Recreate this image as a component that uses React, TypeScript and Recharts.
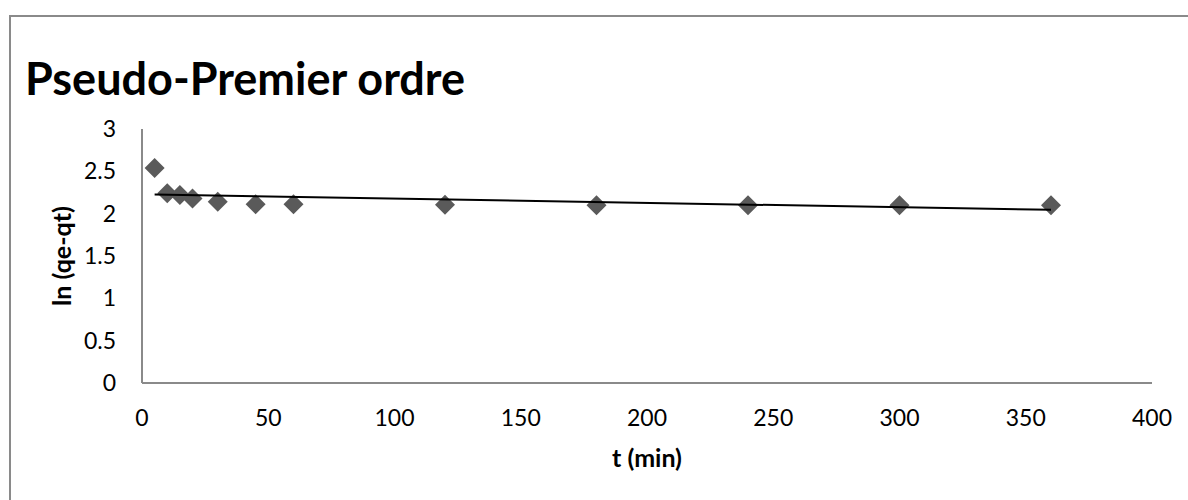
import React from "react";
import { ScatterChart, Scatter, XAxis, YAxis } from "recharts";

// t (min)
const times = [5, 10, 15, 20, 30, 45, 60, 120, 180, 240, 300, 360];
// ln(qe - qt)
const lnValues = [2.54, 2.24, 2.22, 2.18, 2.14, 2.11, 2.11, 2.105, 2.1, 2.1, 2.1, 2.1];

const xTicks = [0, 50, 100, 150, 200, 250, 300, 350, 400];
const yTicks = [0, 0.5, 1, 1.5, 2, 2.5, 3];

const points = times.map((t, i) => ({ x: t, y: lnValues[i] }));

// linear trendline (least squares), like Excel's
const fitLine = () => {
  const n = times.length;
  const mx = times.reduce((a, b) => a + b, 0) / n;
  const my = lnValues.reduce((a, b) => a + b, 0) / n;
  let sxy = 0;
  let sxx = 0;
  times.forEach((t, i) => {
    sxy += (t - mx) * (lnValues[i] - my);
    sxx += (t - mx) * (t - mx);
  });
  const slope = sxy / sxx;
  const icpt = my - slope * mx;
  const x0 = times[0];
  const x1 = times[n - 1];
  return [
    { x: x0, y: icpt + slope * x0 },
    { x: x1, y: icpt + slope * x1 },
  ];
};
const trend = fitLine();

const FONT = "Lato, 'Open Sans', sans-serif";
const AXIS = "#8a8a8a";

const Diamond = (props: any) => {
  const { cx, cy } = props;
  const r = 10;
  return (
    <path
      d={`M${cx},${cy - r}L${cx + r},${cy}L${cx},${cy + r}L${cx - r},${cy}Z`}
      fill="#5a5a5a"
    />
  );
};

const NoDot = () => <g />;

export default function App() {
  return (
    <div
      style={{
        position: "absolute",
        left: 0,
        top: 0,
        width: 1188,
        height: 500,
        overflow: "hidden",
        background: "#fff",
        fontFamily: FONT,
      }}
    >
      <div
        style={{
          position: "absolute",
          left: 9,
          top: 15,
          width: 1200,
          height: 500,
          borderTop: `2px solid ${AXIS}`,
          borderLeft: `2px solid ${AXIS}`,
        }}
      />
      <div
        style={{
          position: "absolute",
          left: 25,
          top: 56,
          fontSize: 45,
          lineHeight: 1,
          fontWeight: 700,
          color: "#000",
          whiteSpace: "nowrap",
        }}
      >
        Pseudo-Premier ordre
      </div>
      <div style={{ position: "absolute", left: 0, top: 0 }}>
        <ScatterChart
          width={1188}
          height={500}
          margin={{ top: 129, right: 36, left: 0, bottom: 17 }}
        >
          <XAxis
            type="number"
            dataKey="x"
            domain={[0, 400]}
            ticks={xTicks}
            interval={0}
            height={100}
            tickLine={false}
            tickSize={0}
            tickMargin={27}
            axisLine={{ stroke: AXIS, strokeWidth: 2 }}
            tick={{ fill: "#000", fontSize: 23, fontFamily: FONT }}
            label={{
              value: "t (min)",
              position: "insideBottom",
              offset: 16,
              fill: "#000",
              fontSize: 25,
              fontWeight: 700,
              fontFamily: FONT,
            }}
          />
          <YAxis
            type="number"
            dataKey="y"
            domain={[0, 3]}
            ticks={yTicks}
            interval={0}
            width={142}
            tickLine={false}
            tickSize={0}
            tickMargin={26}
            axisLine={{ stroke: AXIS, strokeWidth: 2 }}
            tick={{ fill: "#000", fontSize: 23, fontFamily: FONT }}
            label={{
              value: "ln (qe-qt)",
              angle: -90,
              position: "insideLeft",
              offset: 62,
              fill: "#000",
              fontSize: 25,
              fontWeight: 700,
              fontFamily: FONT,
              style: { textAnchor: "middle" },
            }}
          />
          <Scatter data={points} shape={<Diamond />} isAnimationActive={false} />
          <Scatter
            data={trend}
            line={{ stroke: "#000", strokeWidth: 2 }}
            shape={<NoDot />}
            isAnimationActive={false}
          />
        </ScatterChart>
      </div>
    </div>
  );
}
